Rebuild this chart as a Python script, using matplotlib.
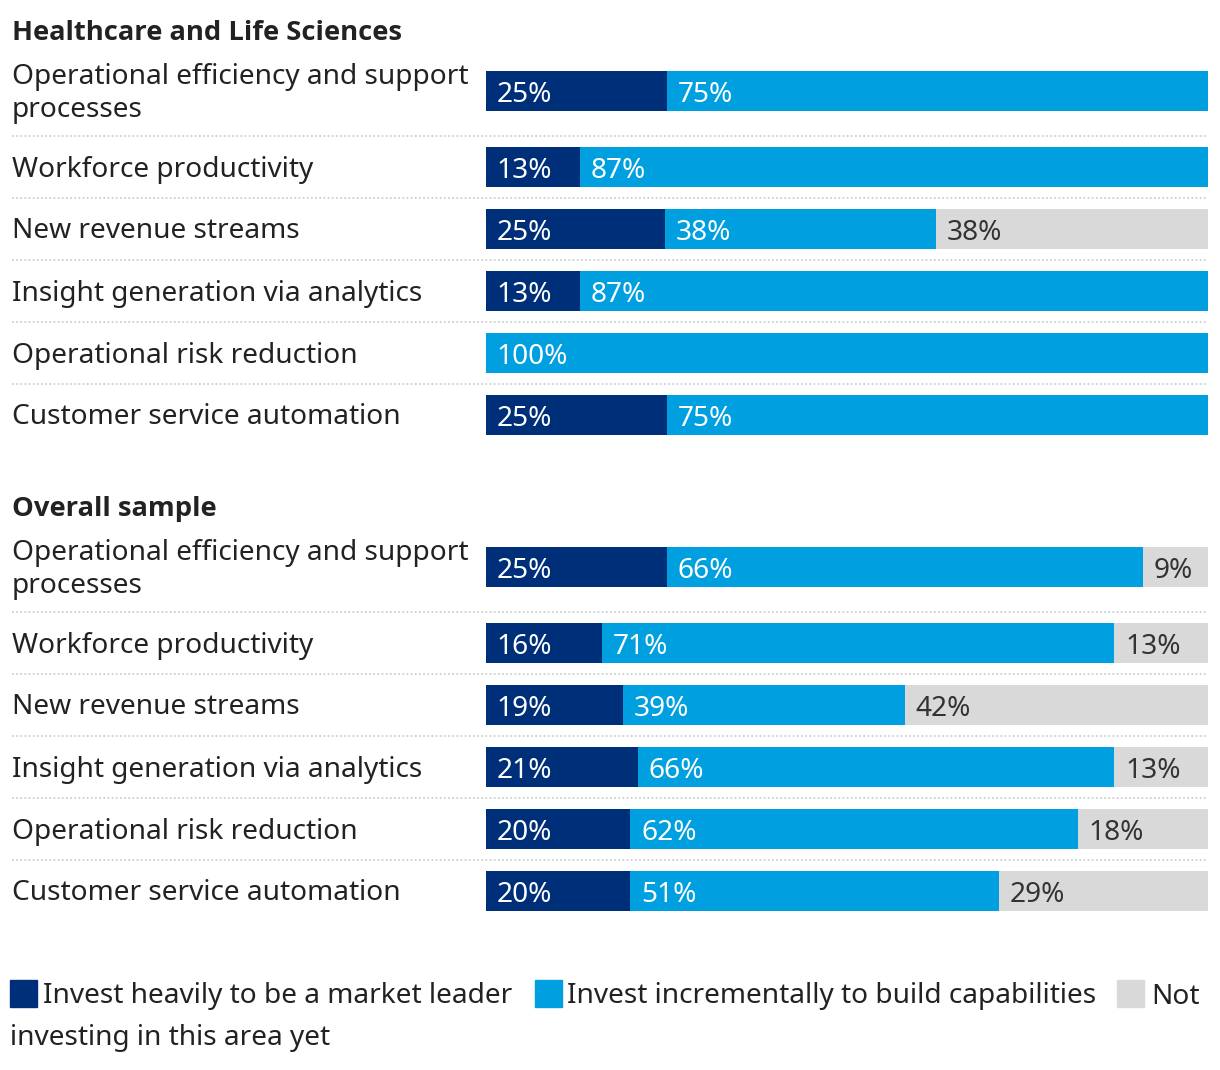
import matplotlib.pyplot as plt
import matplotlib.transforms as mtransforms
from matplotlib.patches import Rectangle

plt.rcParams['font.family'] = ['Noto Sans', 'DejaVu Sans']

# Data
sections = ["Healthcare and Life Sciences", "Overall sample"]
categories = ["Operational efficiency and support\nprocesses",
              "Workforce productivity",
              "New revenue streams",
              "Insight generation via analytics",
              "Operational risk reduction",
              "Customer service automation"]
series_names = ["Invest heavily to be a market leader",
                "Invest incrementally to build capabilities",
                "Not investing in this area yet"]
health_heavy = [25, 13, 25, 13, 0, 25]
health_incr = [75, 87, 38, 87, 100, 75]
health_not = [0, 0, 38, 0, 0, 0]
overall_heavy = [25, 16, 19, 21, 20, 20]
overall_incr = [66, 71, 39, 66, 62, 51]
overall_not = [9, 13, 42, 13, 18, 29]

colors = ["#002f7a", "#009fe0", "#d9d9d9"]
text_colors = ["white", "white", "#333333"]

W, H = 1220, 1070
fig = plt.figure(figsize=(W / 100, H / 100), dpi=100)
ax = fig.add_axes([486 / W, 0, 722 / W, 1])
ax.set_xlim(0, 100)
ax.set_ylim(H, 0)
ax.axis('off')

# x in figure pixels (as fraction), y in pixel rows
blend = mtransforms.blended_transform_factory(fig.transFigure, ax.transData)

def fx(px):
    return px / W

fs = 20.2
dy = 2.5  # text sits a bit low in the original
bar_h = 40
section_tops = [30, 506]
data = [(health_heavy, health_incr, health_not),
        (overall_heavy, overall_incr, overall_not)]

for s, top in enumerate(section_tops):
    ax.text(fx(12), top + dy, sections[s], transform=blend, fontsize=19.7,
            family=['Open Sans', 'DejaVu Sans'], fontweight='bold',
            color='#222222', va='center', ha='left')
    y = top + 61
    for i, cat in enumerate(categories):
        if i > 0:
            y += 76 if "\n" in categories[i - 1] else 62
            ax.plot([fx(12), fx(1208)], [y - 31, y - 31], transform=blend,
                    color='#cfcfcf', lw=1.3, linestyle=(0, (1, 1.3)),
                    clip_on=False)
        ax.text(fx(12), y + dy, cat, transform=blend, fontsize=fs,
                color='#222222', va='center', ha='left', linespacing=1.2)
        vals = [data[s][k][i] for k in range(3)]
        total = sum(vals)
        left = 0
        for k, v in enumerate(vals):
            if v == 0:
                continue
            w = v * 100 / total
            ax.barh(y, w, left=left, height=bar_h, color=colors[k],
                    edgecolor='none')
            ax.text(left + 1.5, y + dy + 1, f"{v}%", fontsize=fs,
                    color=text_colors[k], va='center', ha='left')
            left += w

# Legend (wrapped inline like the original)
leg_y = 993
sq = [(10, 0), (535, 1), (1117, 2)]
for x0, k in sq:
    ax.add_patch(Rectangle((fx(x0), leg_y - 13), fx(27), 27,
                           transform=blend, color=colors[k], clip_on=False))
ax.text(fx(43), leg_y + dy + 1, series_names[0], transform=blend,
        fontsize=fs, color='#222222', va='center', ha='left')
ax.text(fx(567), leg_y + dy + 1, series_names[1], transform=blend,
        fontsize=fs, color='#222222', va='center', ha='left')
ax.text(fx(1151), leg_y + dy + 1, "Not", transform=blend, fontsize=fs,
        color='#222222', va='center', ha='left')
ax.text(fx(10), 1036 + dy, "investing in this area yet", transform=blend,
        fontsize=fs, color='#222222', va='center', ha='left')

fig.savefig("out.png", dpi=100)
